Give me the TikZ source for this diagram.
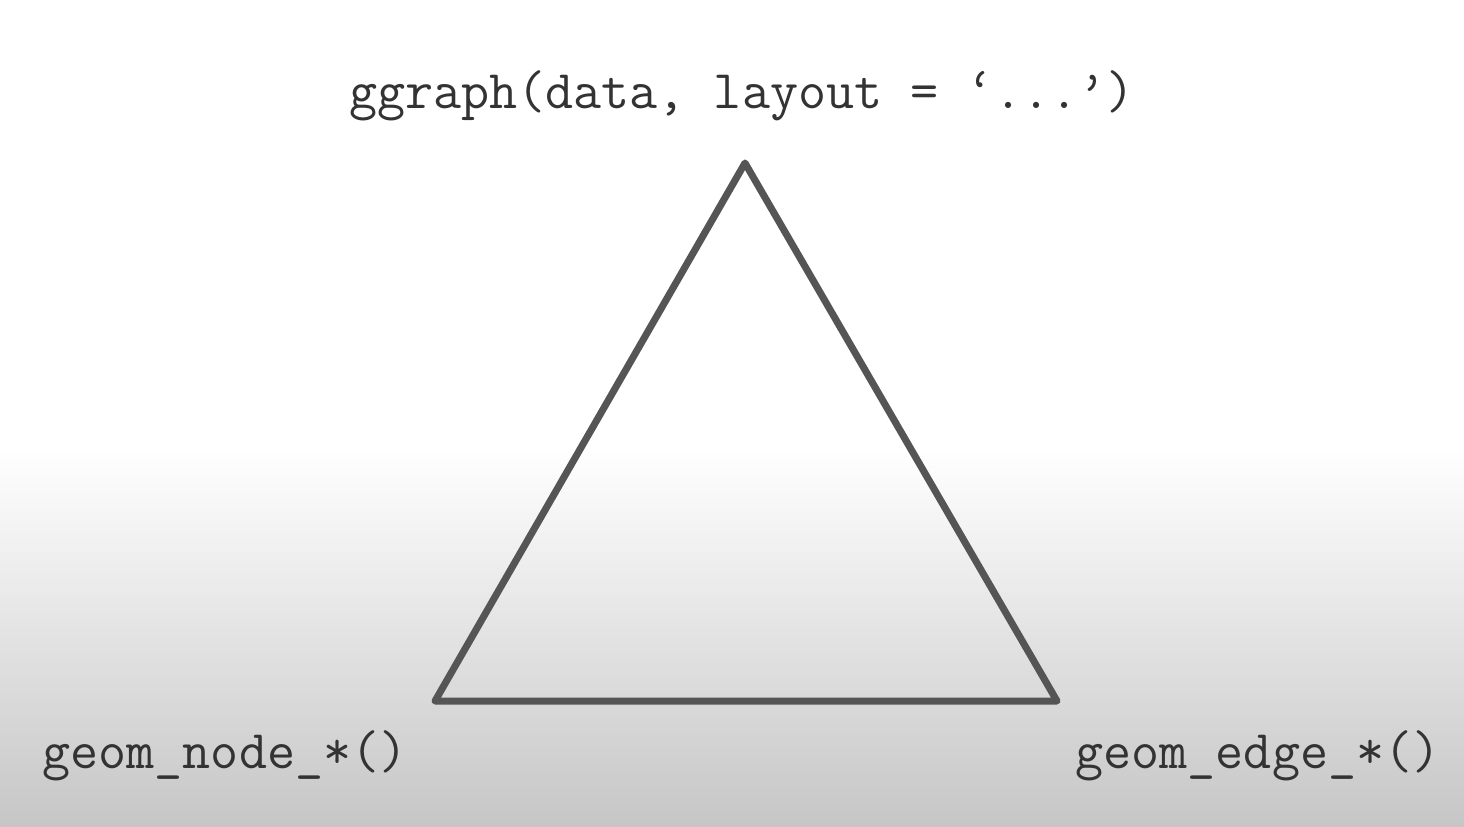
\documentclass[tikz,border=0pt]{standalone}
\usepackage{fontspec}
\usepackage{tikz}

\definecolor{edgegray}{RGB}{85,85,85}
\definecolor{floorgray}{RGB}{198,198,198}

\begin{document}
\begin{tikzpicture}[
   x = 0.02cm, y = -0.02cm,
   side/.style = {draw=edgegray, line width=4pt, line join=round,
                  line cap=round},
   code/.style = {inner sep=0pt, text=black!80,
                  font=\ttfamily\fontsize{31}{35}\selectfont}
                        ]
% background
\fill[white] (0,0) rectangle (1464,450);
\shade[top color=white, bottom color=floorgray] (0,449) rectangle (1464,826);
\useasboundingbox (0,0) rectangle (1464,826);
%
\coordinate (Top)   at (745,163);
\coordinate (Left)  at (435,701);
\coordinate (Right) at (1057,701);
\draw[side] (Top) -- (Left) -- (Right) -- cycle;
%
\node (Layout) [code] at (742,96)  {ggraph(data, layout = ‘...’)};
\node (Nodes)  [code] at (225,756) {geom\_node\_*()};
\node (Edges)  [code] at (1258,756) {geom\_edge\_*()};
    \end{tikzpicture}
\end{document}
